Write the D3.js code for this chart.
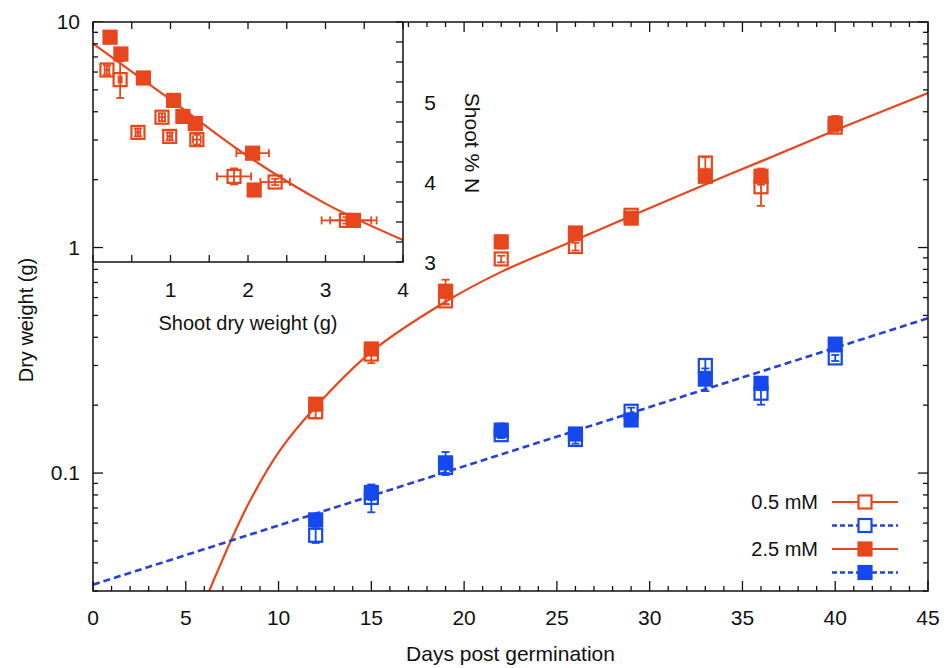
<!DOCTYPE html>
<html>
<head>
<meta charset="utf-8">
<script src="https://cdn.jsdelivr.net/npm/d3@7"></script>
<style>
  body { margin: 0; background: white; }
  svg text { font-family: "Liberation Sans", Arial, sans-serif; fill: #111; }
</style>
</head>
<body>
<main></main>
<script>
// main chart data
let days = [12, 15, 19, 22, 26, 29, 33, 36, 40]
let red05 = [0.187, 0.337, 0.58, 0.89, 1.01, 1.39, 2.37, 1.86, 3.42]
let red05Err = [0.012, 0.03, 0.02, 0.03, 0.04, 0.05, 0.15, 0.33, 0.12]
let red25 = [0.202, 0.355, 0.64, 1.06, 1.16, 1.35, 2.07, 2.07, 3.55]
let red25Err = [0.01, 0.02, 0.08, 0.07, 0.05, 0.05, 0.1, 0.17, 0.28]
let blue05 = [0.053, 0.078, 0.106, 0.148, 0.141, 0.188, 0.30, 0.226, 0.324]
let blue05Err = [0.004, 0.011, 0.006, 0.005, 0.006, 0.007, 0.02, 0.025, 0.01]
let blue25 = [0.062, 0.082, 0.111, 0.155, 0.149, 0.172, 0.261, 0.25, 0.373]
let blue25Err = [0.003, 0.006, 0.013, 0.011, 0.005, 0.006, 0.03, 0.012, 0.01]

// fitted curves
let redFitX = [6.2, 8.3, 10.1, 12, 15, 19, 22, 26, 29, 33, 36, 40, 45]
let redFitY = [0.0292, 0.071, 0.127, 0.197, 0.345, 0.575, 0.78, 1.08, 1.38, 1.905, 2.41, 3.31, 4.84]
let blueFitX = [0, 45]
let blueFitY = [0.032, 0.486]

// inset data: shoot dry weight vs shoot %N
let inFilledX = [0.22, 0.36, 0.65, 1.04, 1.16, 1.32, 2.06, 2.08, 3.36]
let inFilledY = [5.81, 5.60, 5.30, 5.02, 4.82, 4.73, 4.36, 3.90, 3.52]
let inFilledXErr = [0.01, 0.02, 0.04, 0.04, 0.03, 0.03, 0.21, 0.04, 0.3]
let inFilledYErr = [0.02, 0.05, 0.03, 0.02, 0.03, 0.04, 0.03, 0.07, 0.06]
let inOpenX = [0.18, 0.35, 0.58, 0.89, 0.99, 1.34, 1.82, 2.35, 3.27]
let inOpenY = [5.40, 5.28, 4.62, 4.81, 4.57, 4.53, 4.07, 4.00, 3.52]
let inOpenXErr = [0.03, 0.02, 0.03, 0.04, 0.03, 0.05, 0.22, 0.19, 0.32]
let inOpenYErr = [0.06, 0.23, 0.05, 0.05, 0.05, 0.06, 0.1, 0.04, 0.04]
let inFitX = [0, 1, 2, 3, 4]
let inFitY = [5.73, 5.03, 4.32, 3.73, 3.275]

let xTicks = [0, 5, 10, 15, 20, 25, 30, 35, 40, 45]
let yTicks = [0.1, 1, 10]
let inXTicks = [1, 2, 3, 4]
let inYTicks = [3, 4, 5]
let legendLabels = ['0.5 mM', '2.5 mM']

let red = '#e8461c'
let blue = '#1549ee'
let blueLine = '#2541d6'

let width = 946, height = 668
let m = { left: 93, right: 928, top: 22, bottom: 591 }
let ins = { left: 93, right: 403, top: 22, bottom: 262 }
let half = 6.5

let svg = d3.select('main')
    .append('svg')
    .attr('width', width)
    .attr('height', height)

let x = d3.scaleLinear().domain([0, 45]).range([m.left, m.right])
let y = d3.scaleLog().domain([0.03, 10]).range([m.bottom, m.top])
let ix = d3.scaleLinear().domain([0, 4]).range([ins.left, ins.right])
let iy = d3.scaleLinear().domain([3, 6]).range([ins.bottom, ins.top])

svg.append('clipPath').attr('id', 'clipMain')
    .append('rect')
    .attr('x', m.left).attr('y', m.top)
    .attr('width', m.right - m.left).attr('height', m.bottom - m.top)

// fit lines
let mainLine = d3.line().x(d => x(d[0])).y(d => y(d[1])).curve(d3.curveCatmullRom.alpha(0.5))
svg.append('path')
    .attr('clip-path', 'url(#clipMain)')
    .attr('d', mainLine(d3.zip(redFitX, redFitY)))
    .style('fill', 'none')
    .style('stroke', red)
    .style('stroke-width', 2.2)
svg.append('path')
    .attr('clip-path', 'url(#clipMain)')
    .attr('d', mainLine(d3.zip(blueFitX, blueFitY)))
    .style('fill', 'none')
    .style('stroke', blueLine)
    .style('stroke-width', 2.6)
    .style('stroke-dasharray', '7,4')

// error bars + square markers
function drawSeries(g, xs, ys, xErr, yErr, sx, sy, color, filled) {
    let pts = d3.range(xs.length).map(i => ({ x: xs[i], y: ys[i], ex: xErr ? xErr[i] : 0, ey: yErr ? yErr[i] : 0 }))
    let grp = g.append('g').style('stroke', color).style('stroke-width', 1.8)
    pts.forEach(p => {
        let cx = sx(p.x), cy = sy(p.y)
        if (p.ey) {
            let y0 = sy(p.y - p.ey), y1 = sy(p.y + p.ey)
            grp.append('line').attr('x1', cx).attr('x2', cx).attr('y1', y0).attr('y2', y1)
            grp.append('line').attr('x1', cx - 4).attr('x2', cx + 4).attr('y1', y0).attr('y2', y0)
            grp.append('line').attr('x1', cx - 4).attr('x2', cx + 4).attr('y1', y1).attr('y2', y1)
        }
        if (p.ex) {
            let x0 = sx(p.x - p.ex), x1 = sx(p.x + p.ex)
            grp.append('line').attr('x1', x0).attr('x2', x1).attr('y1', cy).attr('y2', cy)
            grp.append('line').attr('x1', x0).attr('x2', x0).attr('y1', cy - 4).attr('y2', cy + 4)
            grp.append('line').attr('x1', x1).attr('x2', x1).attr('y1', cy - 4).attr('y2', cy + 4)
        }
        grp.append('rect')
            .attr('x', cx - half).attr('y', cy - half)
            .attr('width', half * 2).attr('height', half * 2)
            .style('fill', filled ? color : 'none')
            .style('stroke-width', 2.2)
    })
}

let mainG = svg.append('g').attr('clip-path', 'url(#clipMain)')
drawSeries(mainG, days, blue25, null, blue25Err, x, y, blue, true)
drawSeries(mainG, days, red25, null, red25Err, x, y, red, true)
drawSeries(mainG, days, blue05, null, blue05Err, x, y, blue, false)
drawSeries(mainG, days, red05, null, red05Err, x, y, red, false)

// main frame with inward ticks
let tickG = svg.append('g').style('stroke', '#111').style('stroke-width', 1.3)
d3.range(0, 46, 1).forEach(d => {
    let len = d % 5 === 0 ? 10 : 5
    tickG.append('line').attr('x1', x(d)).attr('x2', x(d)).attr('y1', m.bottom).attr('y2', m.bottom - len)
    tickG.append('line').attr('x1', x(d)).attr('x2', x(d)).attr('y1', m.top).attr('y2', m.top + len)
})
let logTicks = y.ticks().filter(v => v >= 0.03 && v <= 10)
logTicks.forEach(v => {
    let len = yTicks.includes(v) ? 10 : 5
    tickG.append('line').attr('x1', m.left).attr('x2', m.left + len).attr('y1', y(v)).attr('y2', y(v))
    tickG.append('line').attr('x1', m.right).attr('x2', m.right - len).attr('y1', y(v)).attr('y2', y(v))
})

// inset panel
svg.append('rect')
    .attr('x', ins.left).attr('y', ins.top)
    .attr('width', ins.right - ins.left).attr('height', ins.bottom - ins.top)
    .style('fill', 'white')

let insetLine = d3.line().x(d => ix(d[0])).y(d => iy(d[1])).curve(d3.curveMonotoneX)
svg.append('path')
    .attr('d', insetLine(d3.zip(inFitX, inFitY)))
    .style('fill', 'none')
    .style('stroke', red)
    .style('stroke-width', 2.2)

let insetG = svg.append('g')
drawSeries(insetG, inOpenX, inOpenY, inOpenXErr, inOpenYErr, ix, iy, red, false)
drawSeries(insetG, inFilledX, inFilledY, inFilledXErr, inFilledYErr, ix, iy, red, true)

let inTickG = svg.append('g').style('stroke', '#111').style('stroke-width', 1.3)
d3.range(0, 4.01, 0.5).forEach(v => {
    inTickG.append('line').attr('x1', ix(v)).attr('x2', ix(v)).attr('y1', ins.bottom).attr('y2', ins.bottom - 7)
    inTickG.append('line').attr('x1', ix(v)).attr('x2', ix(v)).attr('y1', ins.top).attr('y2', ins.top + 7)
})
d3.range(3, 6.01, 0.25).forEach(v => {
    inTickG.append('line').attr('x1', ins.right).attr('x2', ins.right - 7).attr('y1', iy(v)).attr('y2', iy(v))
})
for (let i = 2; i <= 9; i++) {
    inTickG.append('line').attr('x1', m.left).attr('x2', m.left + 5).attr('y1', y(i)).attr('y2', y(i))
}
inTickG.append('line').attr('x1', m.left).attr('x2', m.left + 10).attr('y1', y(1)).attr('y2', y(1))

svg.append('path')
    .attr('d', `M${ins.left},${ins.bottom}H${ins.right}V${ins.top}`)
    .style('fill', 'none').style('stroke', '#111').style('stroke-width', 1.5)

svg.append('rect')
    .attr('x', m.left).attr('y', m.top)
    .attr('width', m.right - m.left).attr('height', m.bottom - m.top)
    .style('fill', 'none').style('stroke', '#111').style('stroke-width', 1.5)

// tick labels
svg.append('g').selectAll('text').data(xTicks).join('text')
    .attr('x', d => x(d)).attr('y', 625)
    .attr('text-anchor', 'middle')
    .style('font-size', '21px')
    .text(d => d)
svg.append('g').selectAll('text').data(yTicks).join('text')
    .attr('x', 80).attr('y', d => y(d) + 7)
    .attr('text-anchor', 'end')
    .style('font-size', '21px')
    .text(d => d3.format('~g')(d))
svg.append('g').selectAll('text').data(inXTicks).join('text')
    .attr('x', d => ix(d)).attr('y', 297)
    .attr('text-anchor', 'middle')
    .style('font-size', '21px')
    .text(d => d)
svg.append('g').selectAll('text').data(inYTicks).join('text')
    .attr('x', 430).attr('y', d => iy(d) + 8)
    .attr('text-anchor', 'middle')
    .style('font-size', '21px')
    .text(d => d)

// axis titles
svg.append('text')
    .attr('x', x(22.5)).attr('y', 661)
    .attr('text-anchor', 'middle')
    .style('font-size', '21px')
    .text('Days post germination')
svg.append('text')
    .attr('transform', 'translate(33,320) rotate(-90)')
    .attr('text-anchor', 'middle')
    .style('font-size', '20px')
    .text('Dry weight (g)')
svg.append('text')
    .attr('x', ix(2)).attr('y', 330)
    .attr('text-anchor', 'middle')
    .style('font-size', '20px')
    .text('Shoot dry weight (g)')
svg.append('text')
    .attr('transform', 'translate(465,143) rotate(90)')
    .attr('text-anchor', 'middle')
    .style('font-size', '21px')
    .text('Shoot % N')

// legend
let legendRows = [
    { label: legendLabels[0], color: red, dash: null, filled: false, w: 2.2 },
    { label: '', color: blue, line: blueLine, dash: '5,3', filled: false, w: 2.6 },
    { label: legendLabels[1], color: red, dash: null, filled: true, w: 2.2 },
    { label: '', color: blue, line: blueLine, dash: '5,3', filled: true, w: 2.6 }
]
let lg = svg.append('g')
legendRows.forEach((r, i) => {
    let ly = 502 + i * 23.5
    if (r.label) {
        lg.append('text').attr('x', 818).attr('y', ly + 7)
            .attr('text-anchor', 'end').style('font-size', '20px').text(r.label)
    }
    lg.append('line').attr('x1', 832).attr('x2', 898).attr('y1', ly).attr('y2', ly)
        .style('stroke', r.line || r.color).style('stroke-width', r.w)
        .style('stroke-dasharray', r.dash)
    lg.append('rect').attr('x', 865 - half).attr('y', ly - half).attr('width', half * 2).attr('height', half * 2)
        .style('fill', r.filled ? r.color : 'white')
        .style('stroke', r.color).style('stroke-width', 2.2)
})
</script>
</body>
</html>
